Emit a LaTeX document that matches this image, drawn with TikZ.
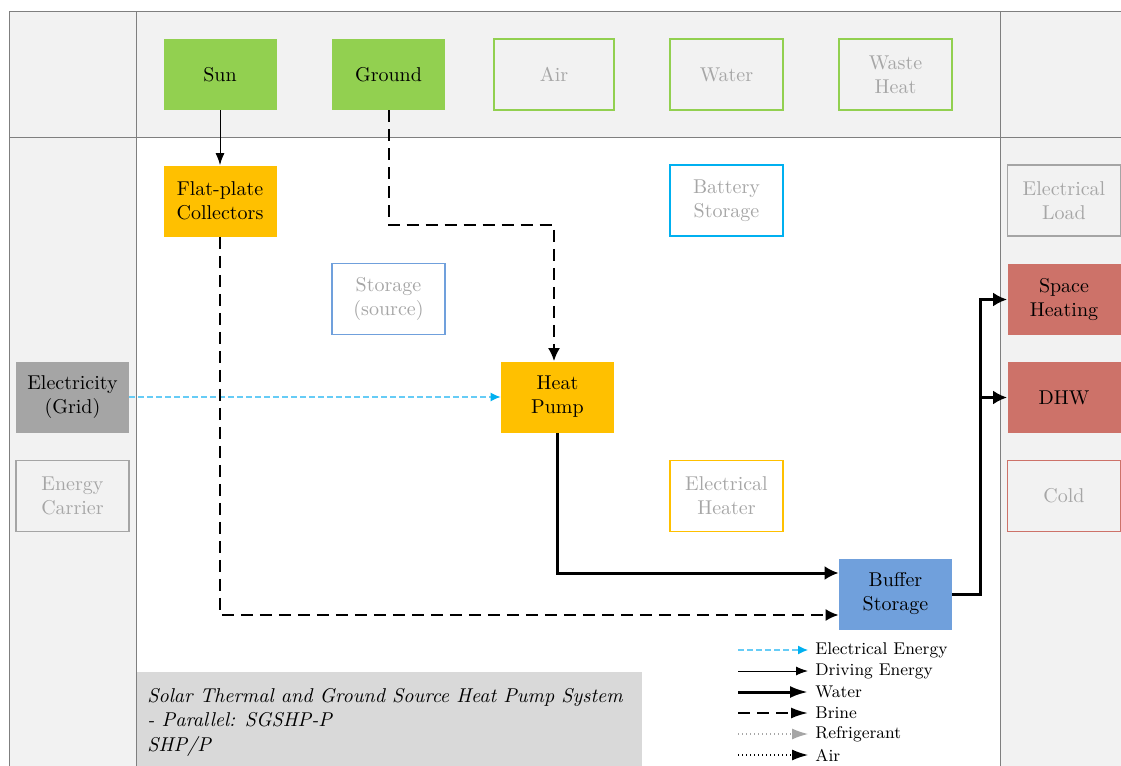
\documentclass[tikz,border=0pt]{standalone}
\usetikzlibrary{arrows.meta,calc}

\definecolor{band}{HTML}{F2F2F2}
\definecolor{frameline}{HTML}{7F7F7F}
\definecolor{srcgreen}{HTML}{92D050}
\definecolor{convorange}{HTML}{FFC000}
\definecolor{elcyan}{HTML}{00B0F0}
\definecolor{elline}{HTML}{66CCF6}
\definecolor{storeblue}{HTML}{70A0DC}
\definecolor{sinkred}{HTML}{CD7269}
\definecolor{carriergray}{HTML}{A5A5A5}
\definecolor{mutedtext}{HTML}{A6A6A6}
\definecolor{titlegray}{HTML}{D9D9D9}

\tikzset{
  box/.style={rectangle, minimum width=56.5pt, minimum height=35.5pt, inner sep=2pt, align=center, font=\normalsize},
  active/.style={box, fill=#1, text=black},
  idle/.style={box, draw=#1, line width=0.9pt, text=mutedtext},
  driving/.style={draw=black, line width=0.5pt, -{Latex[length=6pt,width=4.5pt]}},
  water/.style={draw=black, line width=1.5pt, -{Latex[length=7pt,width=7pt]}},
  brine/.style={draw=black, line width=1pt, dash pattern=on 6pt off 3.5pt, -{Latex[length=6.5pt,width=6pt]}},
  elec/.style={draw=elline, line width=0.6pt, dash pattern=on 3pt off 1.5pt, -{Latex[length=5pt,width=4.5pt,color=elcyan,fill=elcyan]}},
  refrig/.style={draw=mutedtext, line width=0.6pt, dash pattern=on 0.5pt off 1.5pt, -{Latex[length=8pt,width=5.5pt]}},
  airflow/.style={draw=black, line width=0.6pt, dash pattern=on 0.5pt off 1.5pt, -{Latex[length=8pt,width=5.5pt]}},
  legtext/.style={anchor=west, inner xsep=3.5pt, inner ysep=0pt, font=\fontsize{8.5}{10}\selectfont},
}

\begin{document}
\begin{tikzpicture}[x=0.5pt, y=-0.5pt]
\useasboundingbox (0,0) rectangle (1121,766);
\begin{scope}
\clip (0,0) rectangle (1121,766);

% background bands of the grid
\fill[band] (9,11) rectangle (1140,790);
\fill[white] (136,137) rectangle (1000,790);
\fill[titlegray] (136,672) rectangle (642,790);

% grid lines
\draw[frameline, line width=0.5pt] (9,790) -- (9,11) -- (1140,11);
\draw[frameline, line width=0.5pt] (9,137) -- (1140,137);
\draw[frameline, line width=0.5pt] (136,11) -- (136,790);
\draw[frameline, line width=0.5pt] (1000,11) -- (1000,790);

% sources
\node[active=srcgreen] (sun) at (220,74.5) {Sun};
\node[active=srcgreen] (gnd) at (388.5,74.5) {Ground};
\node[idle=srcgreen, minimum width=60pt] (air) at (554,74.5) {Air};
\node[idle=srcgreen] (wat) at (726.5,74.5) {Water};
\node[idle=srcgreen] (waste) at (895.5,74.5) {Waste\\Heat};

% converters and storages
\node[active=convorange] (fpc) at (220,201) {Flat-plate\\Collectors};
\node[idle=elcyan] (bat) at (726.5,200.5) {Battery\\Storage};
\node[idle=storeblue] (sts) at (388.5,299) {Storage\\(source)};
\node[active=convorange] (hp) at (557.5,397) {Heat\\Pump};
\node[idle=convorange] (eh) at (726.5,496) {Electrical\\Heater};
\node[active=storeblue] (buf) at (895.5,594) {Buffer\\Storage};

% energy carriers
\node[active=carriergray] (grid) at (72.5,397) {Electricity\\(Grid)};
\node[idle=carriergray] (carrier) at (72.5,496) {Energy\\Carrier};

% sinks
\node[idle=carriergray] (eload) at (1064,200.5) {Electrical\\Load};
\node[active=sinkred] (sh) at (1064,299.5) {Space\\Heating};
\node[active=sinkred] (dhw) at (1064,397.5) {DHW};
\node[idle=sinkred] (cold) at (1064,496) {Cold};

% system title
\node[anchor=north west, align=left, inner sep=0pt, font=\itshape\linespread{1.02}\selectfont] (title) at (147,688)
  {Solar Thermal and Ground Source Heat Pump System\\- Parallel: SGSHP-P\\SHP/P};

% connections
\draw[driving] (sun.south) -- (fpc.north);
\draw[brine] (gnd.south) -- ++(0,115) -| ($(hp.north)+(-3.5,0)$);
\draw[elec] (grid.east) -- (hp.west);
\draw[brine] (fpc.south) |- ($(buf.west)+(0,21)$);
\draw[water] (hp.south) |- ($(buf.west)+(0,-21)$);
\coordinate (split) at (980,594);
\draw[water] (buf.east) -- (split) |- (sh.west);
\draw[water] (split |- dhw.west) -- (dhw.west);

% legend
\coordinate (e1) at (738,650);
\coordinate (e2) at (738,671);
\coordinate (e3) at (738,692);
\coordinate (e4) at (738,713);
\coordinate (e5) at (738,734);
\coordinate (e6) at (738,755);
\node[legtext] (t1) at (808,650) {Electrical Energy};
\node[legtext] (t2) at (808,671) {Driving Energy};
\node[legtext] (t3) at (808,692) {Water};
\node[legtext] (t4) at (808,713) {Brine};
\node[legtext] (t5) at (808,734) {Refrigerant};
\node[legtext] (t6) at (808,755) {Air};
\draw[elec] (e1) -- (t1.west);
\draw[driving] (e2) -- (t2.west);
\draw[water, -{Latex[length=9pt,width=6pt]}] (e3) -- (t3.west);
\draw[brine, -{Latex[length=8.5pt,width=5.5pt]}] (e4) -- (t4.west);
\draw[refrig] (e5) -- (t5.west);
\draw[airflow] (e6) -- (t6.west);
\end{scope}
\end{tikzpicture}
\end{document}
